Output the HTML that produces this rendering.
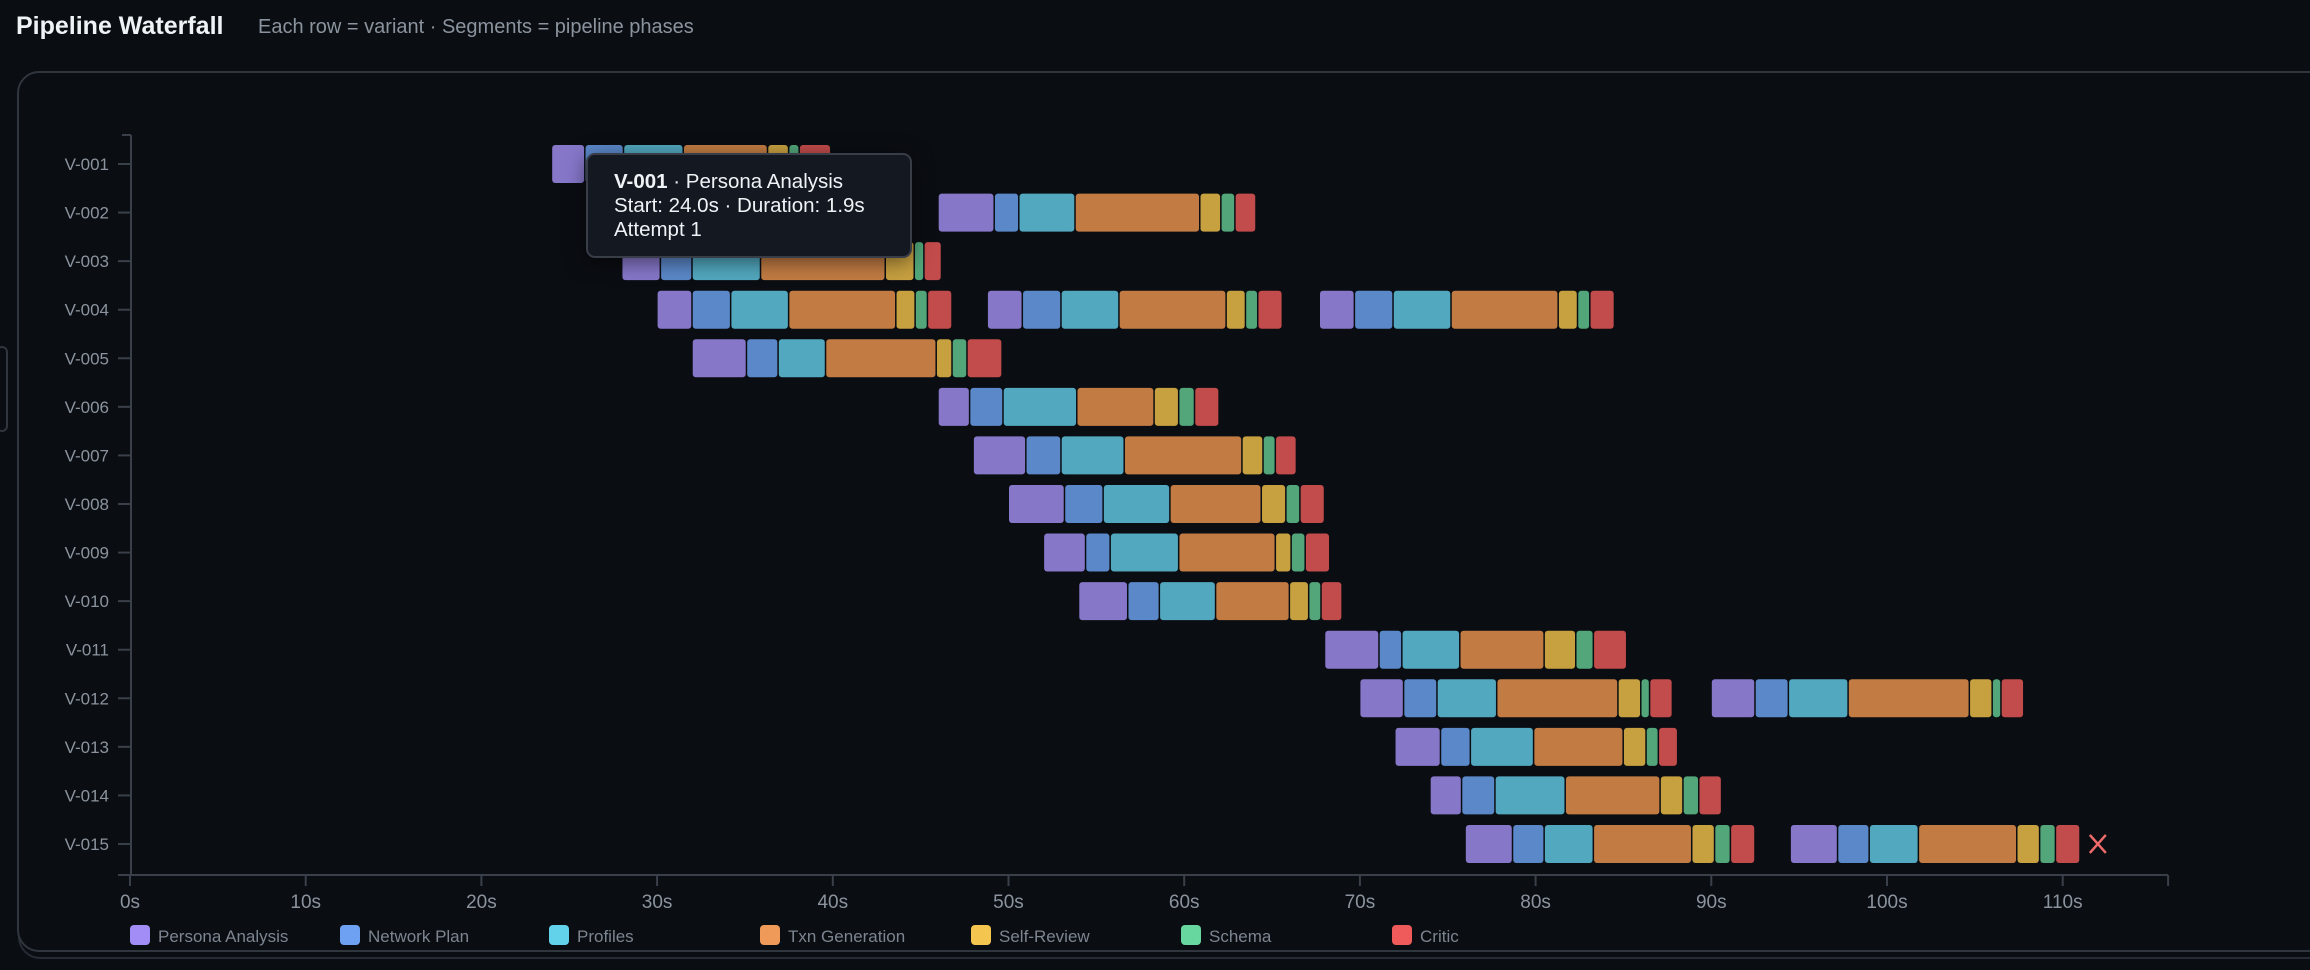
<!DOCTYPE html>
<html><head><meta charset="utf-8"><style>
html,body{margin:0;padding:0;background:#0a0d12;width:2310px;height:970px;overflow:hidden;font-family:"Liberation Sans",sans-serif}
#title{position:absolute;left:16px;top:12px;color:#f0f3f6;font-weight:bold;font-size:25px}
#sub{position:absolute;left:258px;top:16px;color:#8b949e;font-size:20px}
#panel2{position:absolute;left:18px;top:79px;width:2320px;height:880px;border:2px solid #262b34;border-radius:22px;box-sizing:border-box}
#panel{position:absolute;left:17px;top:71px;width:2320px;height:881px;border:2px solid #30363d;border-radius:22px;background:#0a0d12;box-sizing:border-box}
#nub{position:absolute;left:-4px;top:346px;width:8px;height:82px;border:2px solid #30363d;border-radius:6px}
svg{position:absolute;left:0;top:0}
#tip{position:absolute;left:586px;top:153px;width:326px;height:105px;box-sizing:border-box;background:#141821;border:2px solid #383d48;border-radius:9px;color:#f0f3f6;font-size:20.5px;padding:15px 0 0 26px;line-height:24px;box-shadow:0 4px 20px rgba(0,0,0,.5)}
</style></head><body>
<div id="title">Pipeline Waterfall</div>
<div id="sub">Each row = variant · Segments = pipeline phases</div>
<div id="panel2"></div>
<div id="panel"></div>
<div id="nub"></div>
<svg id="chart" width="2310" height="970"></svg>
<div id="tip"><b>V-001</b> · Persona Analysis<br>Start: 24.0s · Duration: 1.9s<br>Attempt 1</div>
<script>
const rows = ["V-001","V-002","V-003","V-004","V-005","V-006","V-007","V-008","V-009","V-010","V-011","V-012","V-013","V-014","V-015"];
const phases = ["Persona Analysis","Network Plan","Profiles","Txn Generation","Self-Review","Schema","Critic"];
const barColors = ["#8677c9","#5b88c9","#52a8bf","#c27c43","#c7a040","#52a67a","#c24b4b"];
const legendColors = ["#a28cf5","#6ea1f2","#62d2ea","#ef9a58","#f4c54f","#67d69f","#ef5b5b"];
const xTicks = [0,10,20,30,40,50,60,70,80,90,100,110];
// runs: row index, start (s)
const runRow =   [0,   1,   2,   3,   3,    3,    4,   5,   6,   7,   8,   9,   10,  11,  11,  12,  13,  14,  14];
const runStart = [24.0,46.0,28.0,30.0,48.8,67.7,32.0,46.0,48.0,50.0,52.0,54.0,68.0,70.0,90.0,72.0,74.0,76.0,94.5];
// phase durations (s) per run
const runDur = [
 [1.9,2.2,3.4,4.8,1.2,0.6,1.8],
 [3.2,1.4,3.2,7.1,1.2,0.8,1.2],
 [2.2,1.8,3.9,7.1,1.65,0.55,1.0],
 [2.0,2.2,3.3,6.1,1.1,0.7,1.4],
 [2.0,2.2,3.3,6.1,1.1,0.7,1.4],
 [2.0,2.2,3.3,6.1,1.1,0.7,1.4],
 [3.1,1.8,2.7,6.3,0.9,0.85,2.0],
 [1.8,1.9,4.2,4.4,1.4,0.9,1.4],
 [3.0,2.0,3.6,6.7,1.2,0.7,1.2],
 [3.2,2.2,3.8,5.2,1.4,0.8,1.4],
 [2.4,1.4,3.9,5.5,0.9,0.8,1.4],
 [2.8,1.8,3.2,4.2,1.1,0.7,1.2],
 [3.1,1.3,3.3,4.8,1.8,1.0,1.9],
 [2.5,1.9,3.4,6.9,1.3,0.5,1.3],
 [2.5,1.9,3.4,6.9,1.3,0.5,1.3],
 [2.6,1.7,3.6,5.1,1.3,0.7,1.1],
 [1.8,1.9,4.0,5.4,1.3,0.9,1.3],
 [2.7,1.8,2.8,5.6,1.3,0.9,1.4],
 [2.7,1.8,2.8,5.6,1.3,0.9,1.4]
];
const failMark = [14, 112]; // row, time
const NS="http://www.w3.org/2000/svg", svg=document.getElementById('chart');
const x0=130, pxPerSec=17.57, xMax=116;
const xs = t => x0 + t*pxPerSec;
const y0=164, rowStep=48.57, barH=38;
const ys = i => y0 + i*rowStep;
function mk(tag, attrs){const e=document.createElementNS(NS,tag);for(const k in attrs)e.setAttribute(k,attrs[k]);svg.appendChild(e);return e;}
// axes
let e=mk('line',{x1:131,y1:135,x2:131,y2:875,stroke:'#3a404a','stroke-width':2});


e=mk('line',{x1:122,y1:135,x2:131,y2:135,stroke:'#3a404a','stroke-width':2});


e=mk('line',{x1:118,y1:875,x2:xs(xMax),y2:875,stroke:'#3a404a','stroke-width':2});


e=mk('line',{x1:xs(xMax),y1:875,x2:xs(xMax),y2:886,stroke:'#3a404a','stroke-width':2});


rows.forEach((r,i)=>{
  const t=mk('line',{x1:118,y1:ys(i),x2:131,y2:ys(i),stroke:'#3a404a','stroke-width':2});
  
  
  const l=mk('text',{x:109,y:ys(i)+6,'text-anchor':'end',fill:'#8b949e','font-size':17});
  l.textContent=r;
  
  
});
xTicks.forEach(v=>{
  const t=mk('line',{x1:xs(v),y1:875,x2:xs(v),y2:886,stroke:'#3a404a','stroke-width':2});
  
  
  const l=mk('text',{x:xs(v),y:908,'text-anchor':'middle',fill:'#8b949e','font-size':19});
  l.textContent=v+'s';
  
  
});
runStart.forEach((s,r)=>{
  let t=s;
  runDur[r].forEach((d,p)=>{
    const b=mk('rect',{x:xs(t)+0.5,y:ys(runRow[r])-barH/2,width:Math.max(1,d*pxPerSec-1.5),height:barH,rx:3,fill:barColors[p]});
    
    
    t+=d;
  });
});
{
  const cx=xs(failMark[1]), cy=ys(failMark[0]);
  const f=mk('path',{d:`M${cx-8} ${cy-9}L${cx+8} ${cy+9}M${cx+8} ${cy-9}L${cx-8} ${cy+9}`,stroke:'#ef6a6a','stroke-width':2.5,fill:'none'});
  
  
}
const legendX=[130,340,549,760,971,1181,1392];
phases.forEach((p,i)=>{
  const s=mk('rect',{x:legendX[i],y:925,width:20,height:20,rx:4,fill:legendColors[i]});
  
  
  const l=mk('text',{x:legendX[i]+28,y:942,fill:'#7d8590','font-size':17});
  l.textContent=p;
  
  
});
</script>
</body></html>
